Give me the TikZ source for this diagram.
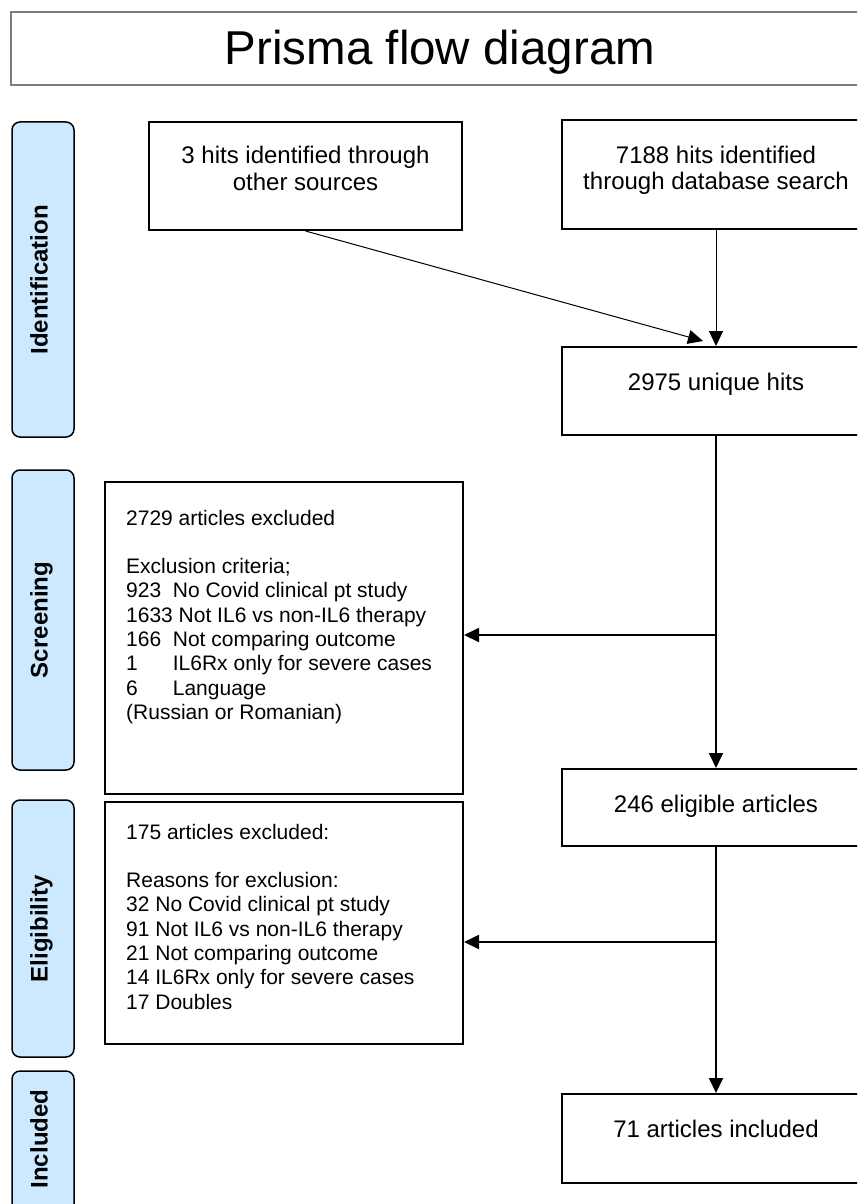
\documentclass[tikz,border=0pt]{standalone}
\usepackage{fontspec}
\setmainfont{Liberation Sans}
\usetikzlibrary{arrows.meta}
\definecolor{barblue}{RGB}{204,233,255}
\definecolor{titlegrey}{RGB}{125,125,125}
\newcommand{\numcol}[1]{\makebox[2.224em][l]{#1}}
\begin{document}
\begin{tikzpicture}[x=1pt,y=-1pt,
  box/.style={draw=black, line width=2pt, rectangle, inner sep=0pt},
  bar/.style={draw=black, line width=1.5pt, fill=barblue, rounded corners=8pt, inner sep=0pt, minimum width=62pt},
  barlabel/.style={rotate=90, anchor=base, inner sep=0pt, font=\fontsize{24}{28}\selectfont\bfseries},
  ctext/.style={anchor=base, inner sep=0pt},
  ltext/.style={anchor=base west, inner sep=0pt},
  flow/.style={line width=1pt, -{Triangle[length=15pt,width=14pt]}},
  flowb/.style={line width=1.8pt, -{Triangle[length=15pt,width=14pt]}}
]
\path[use as bounding box] (0,0) rectangle (857,1204);
\clip (0,0) rectangle (857,1204);

% title
\node[draw=titlegrey, line width=1.5pt, inner sep=0pt, minimum width=859pt, minimum height=73pt] (title) at (440.5,48.5) {};
\node[ctext, font=\fontsize{47.5}{50}\selectfont] (ttl) at (440,65) {Prisma flow diagram};

% phase bars
\node[bar, minimum height=315pt] (bid) at (43,279.5) {};
\node[barlabel] (lid) at (47.5,280) {Identification};
\node[bar, minimum height=300pt] (bsc) at (43,620) {};
\node[barlabel] (lsc) at (47.5,620) {Screening};
\node[bar, minimum height=257pt] (bel) at (43,928.5) {};
\node[barlabel] (lel) at (47.5,929) {Eligibility};
\node[bar, minimum height=141pt] (bin) at (43,1141.5) {};
\node[barlabel] (lin) at (47.5,1139) {Included};

% boxes
\node[box, minimum width=313pt, minimum height=108pt] (n3) at (305.5,176) {};
\node[ctext] (t3) at (305.5,164) {\parbox[t]{300pt}{\centering\fontsize{24}{26.5}\selectfont 3 hits identified through\\other sources}};

\node[box, minimum width=308pt, minimum height=109pt] (n7188) at (716,174.5) {};
\node[ctext] (t7188) at (716,163) {\parbox[t]{300pt}{\centering\fontsize{24}{26.5}\selectfont 7188 hits identified\\through database search}};

\node[box, minimum width=308pt, minimum height=88pt] (n2975) at (716,391) {};
\node[ctext, font=\fontsize{24}{26.5}\selectfont] (t2975) at (716,390) {2975 unique hits};

\node[box, minimum width=358pt, minimum height=312pt] (nscr) at (284,638) {};
\node[ltext] (tscr) at (126,525) {\parbox[t]{330pt}{\raggedright\fontsize{21}{24.3}\selectfont
2729 articles excluded\\[24.3pt]
Exclusion criteria;\\
\numcol{923}No Covid clinical pt study\\
1633 Not IL6 vs non-IL6 therapy\\
\numcol{166}Not comparing outcome\\
\numcol{1}IL6Rx only for severe cases\\
\numcol{6}Language\\
(Russian or Romanian)}};

\node[box, minimum width=308pt, minimum height=77pt] (n246) at (716,807.5) {};
\node[ctext, font=\fontsize{24}{26.5}\selectfont] (t246) at (716,812) {246 eligible articles};

\node[box, minimum width=358pt, minimum height=242pt] (nelig) at (284,923) {};
\node[ltext] (telig) at (126,839) {\parbox[t]{330pt}{\raggedright\fontsize{21}{24.3}\selectfont
175 articles excluded:\\[24.3pt]
Reasons for exclusion:\\
32 No Covid clinical pt study\\
91 Not IL6 vs non-IL6 therapy\\
21 Not comparing outcome\\
14 IL6Rx only for severe cases\\
17 Doubles}};

\node[box, minimum width=308pt, minimum height=89pt] (n71) at (716,1138.5) {};
\node[ctext, font=\fontsize{24}{26.5}\selectfont] (t71) at (716,1137) {71 articles included};

% connectors
\coordinate (tipA) at (703,341);
\draw[flow] (n3.south) -- (tipA);
\draw[flow] (n7188.south) -- (n2975.north);
\draw[flowb] (n2975.south) -- (n246.north);
\coordinate (b1) at (716,635);
\draw[flowb] (b1) -- (nscr.east |- b1);
\draw[flowb] (n246.south) -- (n71.north);
\coordinate (b2) at (716,942);
\draw[flowb] (b2) -- (nelig.east |- b2);
\end{tikzpicture}
\end{document}
